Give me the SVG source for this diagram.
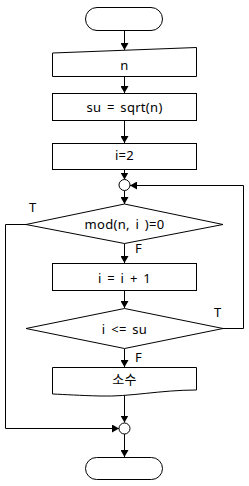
<svg xmlns="http://www.w3.org/2000/svg" width="249" height="486" viewBox="0 0 249 486">
<style>
.s{fill:#fff;stroke:#000;stroke-width:1}
.c{fill:none;stroke:#000;stroke-width:1}
text{font-family:"Noto Sans","Noto Sans CJK KR",sans-serif;font-size:13px;fill:#000;text-anchor:middle;letter-spacing:0.3px;word-spacing:2px}
.l{font-size:13px;text-anchor:start;letter-spacing:0}
</style>
<defs>
<marker id="a" markerUnits="userSpaceOnUse" markerWidth="8" markerHeight="8" refX="7" refY="4" orient="auto">
<path d="M0,0 L7,4 L0,8 Z" fill="#000"/>
</marker>
</defs>
<rect width="249" height="486" fill="#fff"/>
<g id="connectors">
<path class="c" d="M124.5,31 V50" marker-end="url(#a)"/>
<path class="c" d="M124.5,76.5 V93" marker-end="url(#a)"/>
<path class="c" d="M124.5,120.5 V143" marker-end="url(#a)"/>
<path class="c" d="M124.5,169.5 V179.5" marker-end="url(#a)"/>
<path class="c" d="M124.5,190.5 V204" marker-end="url(#a)"/>
<path class="c" d="M124.5,243.5 V263" marker-end="url(#a)"/>
<path class="c" d="M124.5,290.5 V308" marker-end="url(#a)"/>
<path class="c" d="M124.5,348.5 V367" marker-end="url(#a)"/>
<path class="c" d="M124.5,393 V422.5" marker-end="url(#a)"/>
<path class="c" d="M124.5,434 V457" marker-end="url(#a)"/>
<path class="c" d="M26,224.5 H5.5 V428.5 H119" marker-end="url(#a)"/>
<path class="c" d="M223,328.5 H243.5 V185.5 H130" marker-end="url(#a)"/>
<text class="l" x="29" y="212">T</text>
<text class="l" x="135" y="253">F</text>
<text class="l" x="214" y="317">T</text>
<text class="l" x="135" y="362">F</text>
</g>
<g id="start"><rect class="s" x="85.5" y="7.5" width="77" height="23" rx="11.5"/></g>
<g id="input"><path class="s" d="M52.5,53 L196.5,47.5 V76.5 H52.5 Z"/><text x="124.5" y="70">n</text></g>
<g id="su"><rect class="s" x="52.5" y="93.5" width="144" height="27"/><text x="124.5" y="112">su = sqrt(n)</text></g>
<g id="init"><rect class="s" x="52.5" y="143.5" width="144" height="26"/><text x="124.5" y="160">i=2</text></g>
<g id="join1"><circle class="s" cx="124.5" cy="185" r="5.5"/></g>
<g id="cond1"><path class="s" d="M124.5,204 L223,224.5 L124.5,243.5 L26,224.5 Z"/><text x="124.5" y="229">mod(n, i )=0</text></g>
<g id="inc"><rect class="s" x="52.5" y="263.5" width="144" height="27"/><text x="124.5" y="283">i = i + 1</text></g>
<g id="cond2"><path class="s" d="M124.5,308.5 L223,328.5 L124.5,348.5 L26,328.5 Z"/><text x="124.5" y="334">i &lt;= su</text></g>
<g id="output"><path class="s" d="M52.5,367.5 H196.5 V390 C160,390 130,397 100,396 C80,395.5 65,394.5 52.5,394 Z"/><text x="124.5" y="384">소수</text></g>
<g id="join2"><circle class="s" cx="124.5" cy="428.5" r="5.5"/></g>
<g id="end"><rect class="s" x="85.5" y="457.5" width="77" height="22" rx="11"/></g>
</svg>
